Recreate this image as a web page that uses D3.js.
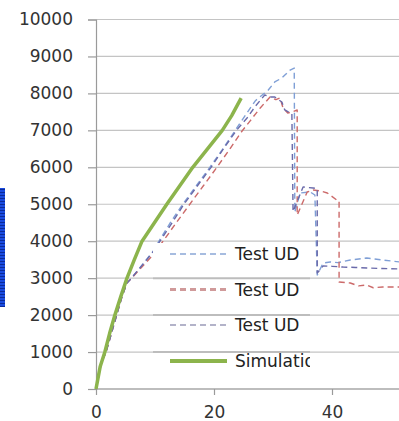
<!DOCTYPE html>
<html>
<head>
<meta charset="utf-8">
<script src="https://cdn.jsdelivr.net/npm/d3@7"></script>
<style>
  body { margin: 0; background: #fff; }
  text { font-family: "DejaVu Sans", sans-serif; }
</style>
</head>
<body>
<div class="canvas"></div>
<script>
// tick values
const yTicks = [0, 1000, 2000, 3000, 4000, 5000, 6000, 7000, 8000, 9000, 10000];
const xTicks = [0, 20, 40];

// series, [x, y]
const testUD1 = [[0,0],[0.9,700],[1.7,1000],[2.6,1500],[3.5,2000],[4.4,2500],[5.25,2869],[5.9,2977],[9.7,3730],
  [10.85,4050],[12.8,4550],[14.7,5000],[17,5500],[19.3,6000],[21.5,6500],[23.6,7000],[25.5,7450],
  [27,7800],[29.2,8092],[30.3,8309],[31.5,8417],[32.9,8633],[33.6,8687],[33.7,4790],
  [34.6,5305],[36.3,5332],[37.1,5250],[37.5,3085],[38.5,3410],[39.7,3437],[41,3420],
  [43.1,3491],[45.9,3545],[48.6,3491],[51.5,3437]];
const testUD2 = [[0,0],[0.9,700],[1.7,1000],[2.6,1500],[3.5,2000],[4.4,2500],[5.25,2869],[5.9,2977],[9.66,3627],
  [11.6,4050],[13.6,4500],[15.9,5000],[18.2,5500],[20.5,6000],[22.7,6500],[24.6,6950],[26.1,7250],[27.8,7600],
  [29.5,7903],[30.5,7830],[31.2,7876],[31.7,7605],[32.5,7470],[33.2,7497],[34.1,7551],[34.1,4709],
  [35.8,5332],[36.8,5386],[38,5360],[39.2,5305],[40.8,5115],[41.2,5100],[41.2,2896],[43.1,2869],
  [44.5,2790],[45.9,2815],[47,2740],[48.6,2760],[51.5,2760]];
const testUD3 = [[0,0],[0.9,700],[1.7,1000],[2.6,1500],[3.5,2000],[4.4,2500],[5.25,2869],[5.9,2977],[9.66,3708],
  [10.85,4000],[12.9,4500],[14.9,5000],[17.2,5500],[19.5,6000],[21.6,6500],[23.8,7000],[25.6,7334],
  [27,7650],[28.6,7957],[29.5,7903],[30.3,7903],[31.5,7767],[32,7551],[33.2,7450],[33.4,4800],
  [35.1,5467],[36.8,5440],[37.5,5420],[37.5,3140],[38.5,3330],[40,3320],[41.9,3300],[44,3290],
  [45.9,3275],[48.5,3260],[51.5,3248]];
const simulation = [[0,0],[0.7,600],[1.5,1000],[2.3,1500],[3.2,2000],[4.2,2500],[5.25,3000],[6.5,3500],
  [7.8,4000],[9.9,4500],[12,5000],[14.2,5500],[16.4,6000],[18.9,6500],[21.4,7000],[23,7400],[24.6,7870]];

const series = [
  { name: 'Test UD', data: testUD1, color: '#7f9fd6', width: 1.4, dash: '6,4', legendColor: '#8aa6d6', legendWidth: 1.6 },
  { name: 'Test UD', data: testUD2, color: '#cc6a6a', width: 1.4, dash: '6,4', legendColor: '#d09a9a', legendWidth: 3 },
  { name: 'Test UD', data: testUD3, color: '#6a6aaa', width: 1.4, dash: '6,4', legendColor: '#9a9ab8', legendWidth: 1.6 },
  { name: 'Simulation', data: simulation, color: '#8cb44c', width: 3.5, dash: null, legendColor: '#8cb44c', legendWidth: 4 }
];

const width = 399, height = 421;

const svg = d3.select('.canvas').append('svg')
    .attr('width', width)
    .attr('height', height);

const x = d3.scaleLinear().domain([0, 60]).range([96, 96 + 60 * 5.9]);
const y = d3.scaleLinear().domain([0, 10000]).range([389, 19.5]);

// garbled axis title block on the left
const pat = svg.append('defs').append('pattern')
    .attr('id', 'stripes')
    .attr('width', 6).attr('height', 3)
    .attr('patternUnits', 'userSpaceOnUse');
pat.append('rect').attr('width', 6).attr('height', 3).attr('fill', '#1a4be0');
pat.append('rect').attr('width', 6).attr('height', 1).attr('fill', '#0b2a9a');
svg.append('rect')
    .attr('x', 0).attr('y', 188)
    .attr('width', 5).attr('height', 119)
    .attr('fill', 'url(#stripes)');

// gridlines
const grid = svg.append('g');
grid.selectAll('line')
    .data(yTicks)
    .join('line')
    .attr('x1', x(0)).attr('x2', width)
    .attr('y1', d => y(d)).attr('y2', d => y(d))
    .attr('stroke', '#c4c4c4')
    .attr('stroke-width', 1.2);

// y axis
const yAxis = svg.append('g')
    .attr('transform', `translate(${x(0)},0)`)
    .call(d3.axisLeft(y).tickValues(yTicks).tickFormat(d3.format('d')).tickSize(8).tickPadding(15));
yAxis.select('.domain').attr('stroke', '#9a9a9a').attr('stroke-width', 1.2);
yAxis.selectAll('.tick line').attr('stroke', '#9a9a9a').attr('stroke-width', 1.2);
yAxis.selectAll('text')
    .attr('fill', '#333')
    .style('font-size', '17px')
    .style('font-family', '"DejaVu Sans", sans-serif');

// x axis
const xAxis = svg.append('g')
    .attr('transform', `translate(0,${y(0)})`)
    .call(d3.axisBottom(x).tickValues(xTicks).tickSize(6).tickPadding(11));
xAxis.select('.domain').attr('stroke', '#9a9a9a').attr('stroke-width', 1.2)
    .attr('d', `M${x(0)},0H${width}`);
xAxis.selectAll('.tick line').attr('stroke', '#9a9a9a').attr('stroke-width', 1.2);
xAxis.selectAll('text')
    .attr('fill', '#333')
    .style('font-size', '17px')
    .style('font-family', '"DejaVu Sans", sans-serif');

// data lines, tests first then simulation on top
const line = d3.line().x(d => x(d[0])).y(d => y(d[1]));
svg.append('g').selectAll('path')
    .data(series)
    .join('path')
    .attr('d', d => line(d.data))
    .attr('fill', 'none')
    .attr('stroke', d => d.color)
    .attr('stroke-width', d => d.width)
    .attr('stroke-dasharray', d => d.dash)
    .attr('stroke-linejoin', 'round');

// legend
const legX = 153, legR = 310, legTop = 243, legBottom = 372;
svg.append('clipPath').attr('id', 'legclip')
  .append('rect')
    .attr('x', legX).attr('y', legTop)
    .attr('width', legR - legX).attr('height', legBottom - legTop);

const legend = svg.append('g').attr('clip-path', 'url(#legclip)');
legend.append('rect')
    .attr('x', legX).attr('y', legTop)
    .attr('width', legR - legX).attr('height', legBottom - legTop)
    .attr('fill', '#fff');
legend.selectAll('line.g')
    .data(yTicks.filter(d => y(d) > legTop - 2 && y(d) < legBottom))
    .join('line')
    .attr('class', 'g')
    .attr('x1', legX).attr('x2', legR)
    .attr('y1', d => y(d)).attr('y2', d => y(d))
    .attr('stroke', '#bdbdbd')
    .attr('stroke-width', 2);

const rowY = [254, 289.5, 325, 361];
const rows = legend.selectAll('g.row')
    .data(series)
    .join('g')
    .attr('class', 'row')
    .attr('transform', (d, i) => `translate(0,${rowY[i]})`);
rows.append('line')
    .attr('x1', 170).attr('x2', 227)
    .attr('stroke', d => d.legendColor)
    .attr('stroke-width', d => d.legendWidth)
    .attr('stroke-dasharray', d => d.dash);
rows.append('text')
    .attr('x', 235).attr('y', 6)
    .attr('fill', '#222')
    .style('font-size', '17px')
    .text(d => d.name);
</script>
</body>
</html>
